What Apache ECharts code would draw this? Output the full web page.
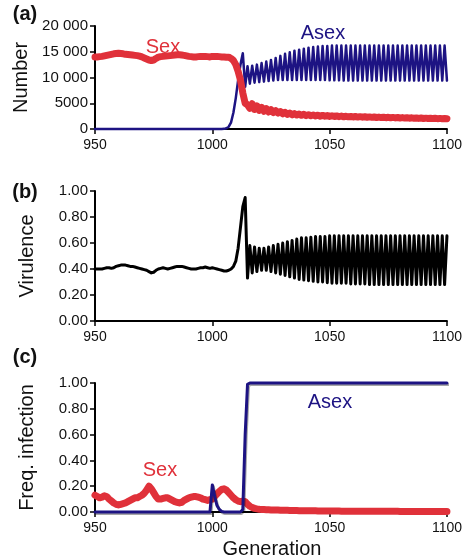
<!DOCTYPE html>
<html>
<head>
<meta charset="utf-8">
<script src="https://cdn.jsdelivr.net/npm/echarts@6/dist/echarts.min.js"></script>
<style>
  html, body { margin: 0; padding: 0; background: #fff; }
  #chart { width: 465px; height: 559px; }
</style>
</head>
<body>
<div id="chart"></div>
<script>
// generations run from 950 to 1100, one value per generation
const startGen = 950
const xTicks = [950, 1000, 1050, 1100]

// (a) number of hosts
const sexNumber = [
  14000, 14000, 14050, 14100, 14200, 14300, 14400, 14500, 14600, 14650,
  14700, 14650, 14600, 14500, 14450, 14400, 14350, 14300, 14250, 14150,
  14000, 13800, 13600, 13400, 13300, 13400, 13700, 13950, 14050, 14100,
  14150, 14200, 14250, 14300, 14350, 14400, 14400, 14350, 14300, 14200,
  14100, 14050, 14000, 14000, 14050, 14100, 14100, 14100, 14050, 14000,
  14100, 14100, 14100, 14050, 14000, 14000, 13950, 13950, 13700, 13300,
  12500, 11200, 9500, 7000, 5000, 4700,
  4000, 4900, 3800, 4500, 3600, 4200, 3450, 3950, 3300, 3750,
  3200, 3550, 3100, 3400, 2950, 3250, 2850, 3100, 2750, 3000,
  2700, 2900, 2650, 2850, 2600, 2780, 2570, 2720, 2540, 2680,
  2500, 2640, 2480, 2600, 2450, 2560, 2430, 2530, 2400, 2500,
  2380, 2470, 2360, 2440, 2340, 2420, 2320, 2400, 2300, 2380,
  2280, 2350, 2260, 2330, 2240, 2310, 2220, 2290, 2200, 2270,
  2180, 2250, 2160, 2230, 2140, 2210, 2120, 2190, 2100, 2170,
  2080, 2150, 2060, 2130, 2040, 2110, 2030, 2090, 2020, 2070,
  2010, 2060, 2000, 2050, 2000
]
const asexNumber = [
  0, 0, 0, 0, 0, 0, 0, 0, 0, 0,
  0, 0, 0, 0, 0, 0, 0, 0, 0, 0,
  0, 0, 0, 0, 0, 0, 0, 0, 0, 0,
  0, 0, 0, 0, 0, 0, 0, 0, 0, 0,
  0, 0, 0, 0, 0, 0, 0, 0, 0, 0,
  0, 0, 0, 0, 0, 30, 150, 450, 1300, 3200,
  6000, 9500, 12500, 14700, 8200, 12200,
  8800, 12300, 9000, 12500, 9100, 12800, 9200, 13100, 9300, 13400,
  9400, 13800, 9500, 14200, 9500, 14600, 9500, 14900, 9500, 15200,
  9500, 15400, 9500, 15600, 9500, 15800, 9500, 15900, 9500, 16000,
  9500, 16100, 9500, 16100, 9450, 16200, 9450, 16200, 9450, 16200,
  9400, 16200, 9400, 16200, 9400, 16200, 9400, 16200, 9400, 16200,
  9400, 16200, 9400, 16200, 9400, 16200, 9400, 16200, 9400, 16200,
  9400, 16200, 9400, 16200, 9400, 16200, 9400, 16200, 9400, 16200,
  9400, 16200, 9400, 16200, 9400, 16200, 9400, 16200, 9400, 16200,
  9400, 16200, 9400, 16200, 9400
]

// (b) parasite virulence
const virulence = [
  0.40, 0.40, 0.40, 0.40, 0.405, 0.41, 0.41, 0.405, 0.41, 0.42,
  0.425, 0.43, 0.43, 0.43, 0.425, 0.42, 0.42, 0.415, 0.41, 0.405,
  0.40, 0.395, 0.39, 0.38, 0.37, 0.375, 0.39, 0.40, 0.405, 0.41,
  0.405, 0.40, 0.405, 0.41, 0.415, 0.42, 0.42, 0.42, 0.415, 0.41,
  0.405, 0.40, 0.40, 0.40, 0.405, 0.41, 0.41, 0.415, 0.41, 0.405,
  0.41, 0.405, 0.40, 0.395, 0.39, 0.385, 0.385, 0.39, 0.40, 0.42,
  0.46, 0.56, 0.72, 0.88, 0.95, 0.33,
  0.58, 0.37, 0.57, 0.38, 0.56, 0.39, 0.56, 0.39, 0.57, 0.38,
  0.58, 0.37, 0.59, 0.36, 0.60, 0.35, 0.61, 0.34, 0.62, 0.33,
  0.63, 0.32, 0.64, 0.315, 0.64, 0.31, 0.645, 0.305, 0.65, 0.30,
  0.65, 0.30, 0.65, 0.295, 0.655, 0.29, 0.655, 0.29, 0.655, 0.29,
  0.655, 0.29, 0.655, 0.285, 0.655, 0.285, 0.655, 0.285, 0.655, 0.285,
  0.655, 0.28, 0.655, 0.28, 0.655, 0.28, 0.655, 0.28, 0.655, 0.28,
  0.655, 0.28, 0.655, 0.28, 0.655, 0.28, 0.655, 0.28, 0.655, 0.28,
  0.655, 0.28, 0.655, 0.28, 0.655, 0.28, 0.655, 0.28, 0.655, 0.28,
  0.655, 0.28, 0.655, 0.28, 0.655
]

// (c) frequency of infection
const sexInfection = [
  0.13, 0.12, 0.11, 0.115, 0.125, 0.12, 0.10, 0.085, 0.07, 0.06,
  0.055, 0.06, 0.065, 0.07, 0.08, 0.09, 0.10, 0.11, 0.11, 0.12,
  0.13, 0.145, 0.17, 0.20, 0.18, 0.15, 0.12, 0.10, 0.10, 0.105,
  0.11, 0.11, 0.10, 0.09, 0.08, 0.075, 0.07, 0.075, 0.09, 0.10,
  0.11, 0.115, 0.12, 0.12, 0.115, 0.11, 0.10, 0.095, 0.09, 0.095,
  0.10, 0.12, 0.14, 0.16, 0.175, 0.18, 0.17, 0.15, 0.13, 0.11,
  0.095, 0.085, 0.08, 0.085, 0.08, 0.06, 0.045, 0.035, 0.028, 0.024,
  0.021, 0.02, 0.019, 0.018, 0.017, 0.016, 0.016, 0.015, 0.015, 0.014,
  0.014, 0.013, 0.013, 0.012, 0.012, 0.011, 0.011, 0.010, 0.010, 0.010,
  0.009, 0.009, 0.009, 0.009, 0.009, 0.008, 0.008, 0.008, 0.008, 0.008,
  0.007, 0.007, 0.007, 0.007, 0.007, 0.006, 0.006, 0.006, 0.006, 0.006,
  0.006, 0.006, 0.006, 0.006, 0.006, 0.005, 0.005, 0.005, 0.005, 0.005,
  0.005, 0.005, 0.005, 0.005, 0.005, 0.005, 0.005, 0.005, 0.005, 0.005,
  0.004, 0.004, 0.004, 0.004, 0.004, 0.004, 0.004, 0.004, 0.004, 0.004,
  0.004, 0.004, 0.004, 0.004, 0.004, 0.003, 0.003, 0.003, 0.003, 0.003,
  0.003
]
const asexInfection = [
  0, 0, 0, 0, 0, 0, 0, 0, 0, 0,
  0, 0, 0, 0, 0, 0, 0, 0, 0, 0,
  0, 0, 0, 0, 0, 0, 0, 0, 0, 0,
  0, 0, 0, 0, 0, 0, 0, 0, 0, 0,
  0, 0, 0, 0, 0, 0, 0, 0, 0, 0,
  0.21, 0.12, 0.05, 0.02, 0.005, 0, 0, 0, 0, 0,
  0, 0, 0, 0.02, 0.60, 0.99,
  1, 1, 1, 1, 1, 1, 1, 1, 1, 1,
  1, 1, 1, 1, 1, 1, 1, 1, 1, 1,
  1, 1, 1, 1, 1, 1, 1, 1, 1, 1,
  1, 1, 1, 1, 1, 1, 1, 1, 1, 1,
  1, 1, 1, 1, 1, 1, 1, 1, 1, 1,
  1, 1, 1, 1, 1, 1, 1, 1, 1, 1,
  1, 1, 1, 1, 1, 1, 1, 1, 1, 1,
  1, 1, 1, 1, 1, 1, 1, 1, 1, 1,
  1, 1, 1, 1, 1
]

const RED = '#e0313a'
const NAVY = '#1d1383'
const FONT = '"Liberation Sans", Arial, Helvetica, sans-serif'

// pair each value with its generation
function pairs(vals) {
  return vals.map((v, i) => [startGen + i, v])
}

function xAxisFor(gi) {
  return {
    type: 'value', gridIndex: gi,
    min: xTicks[0], max: xTicks[xTicks.length - 1], interval: 50,
    axisLine: { show: true, lineStyle: { color: '#000', width: 2 } },
    axisTick: { show: true, length: 5, lineStyle: { color: '#000', width: 1.5 } },
    axisLabel: { fontSize: 14, color: '#111', margin: 9, fontFamily: FONT, formatter: v => String(v) },
    splitLine: { show: false }
  }
}

function yAxisFor(gi, name, max, interval, gap, fmt) {
  return {
    type: 'value', gridIndex: gi, min: 0, max: max, interval: interval,
    name: name, nameLocation: 'middle', nameGap: gap,
    nameTextStyle: { fontSize: 20, color: '#111', fontFamily: FONT },
    axisLine: { show: true, lineStyle: { color: '#000', width: 2 } },
    axisTick: { show: true, length: 5, lineStyle: { color: '#000', width: 1.5 } },
    axisLabel: { fontSize: 15, color: '#111', margin: 7, fontFamily: FONT, formatter: fmt },
    splitLine: { show: false }
  }
}

function numFmt(v) {
  // 10 000 style for five digit numbers
  return v >= 10000 ? String(v).replace(/(\d{3})$/, ' $1') : String(v)
}
function decFmt(v) {
  return v.toFixed(2)
}

function lineSeries(name, xi, vals, color, width, z, shadow) {
  let ls = { color: color, width: width, cap: 'round', join: 'round' }
  if (shadow) {
    ls.shadowColor = 'rgba(0,0,0,0.35)'
    ls.shadowOffsetX = 1
    ls.shadowOffsetY = 1.5
  }
  return {
    name: name, type: 'line', xAxisIndex: xi, yAxisIndex: xi,
    data: pairs(vals), showSymbol: false, symbol: 'none',
    lineStyle: ls, z: z, clip: false, silent: true
  }
}

function label(text, x, y, color, bold) {
  return {
    type: 'text', x: x, y: y,
    style: {
      text: text, fill: color, align: 'center', verticalAlign: 'middle',
      font: (bold ? 'bold ' : '') + '20px ' + FONT
    }
  }
}

const chart = echarts.init(document.getElementById('chart'), null, { renderer: 'canvas' })

chart.setOption({
  animation: false,
  backgroundColor: '#fff',
  textStyle: { fontFamily: FONT },
  grid: [
    { left: 95, top: 26, width: 355, height: 103 },
    { left: 95, top: 191, width: 355, height: 130 },
    { left: 95, top: 383, width: 355, height: 129 }
  ],
  xAxis: [xAxisFor(0), xAxisFor(1), xAxisFor(2)],
  yAxis: [
    yAxisFor(0, 'Number', 20000, 5000, 57, numFmt),
    yAxisFor(1, 'Virulence', 1, 0.2, 58, decFmt),
    yAxisFor(2, 'Freq. infection', 1, 0.2, 58, decFmt)
  ],
  series: [
    lineSeries('Asex', 0, asexNumber, NAVY, 2.5, 2, false),
    lineSeries('Sex', 0, sexNumber, RED, 7, 3, false),
    lineSeries('Virulence', 1, virulence, '#000', 3, 2, false),
    lineSeries('Sex', 2, sexInfection, RED, 7, 2, false),
    lineSeries('Asex', 2, asexInfection, NAVY, 3, 3, true)
  ],
  graphic: [
    label('(a)', 25, 14, '#111', true),
    label('(b)', 25, 192, '#111', true),
    label('(c)', 25, 357, '#111', true),
    label('Sex', 163, 47, RED, false),
    label('Asex', 323, 33, NAVY, false),
    label('Asex', 330, 402, NAVY, false),
    label('Sex', 160, 470, RED, false),
    label('Generation', 272, 549, '#111', false)
  ]
})
</script>
</body>
</html>
